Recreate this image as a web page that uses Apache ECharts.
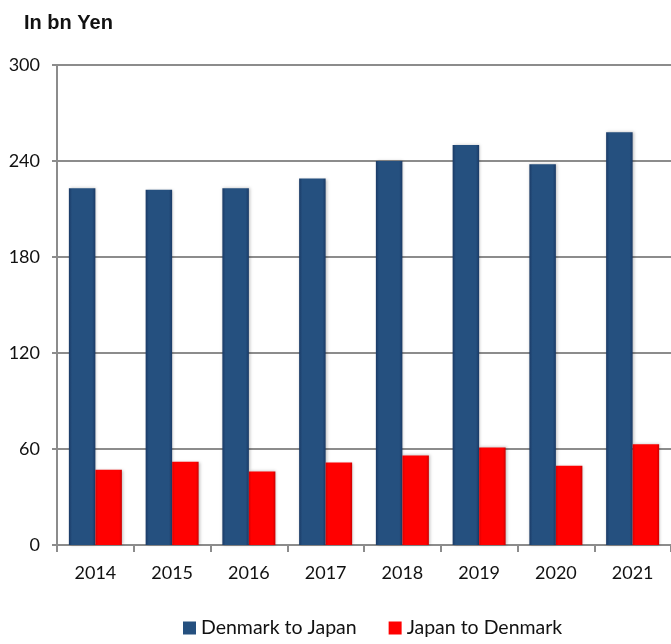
<!DOCTYPE html>
<html><head><meta charset="utf-8">
<script src="https://cdn.jsdelivr.net/npm/echarts@6/dist/echarts.min.js"></script>
<style>html,body{margin:0;padding:0;background:#fff}#c{width:671px;height:644px}</style>
</head><body><div id="c"></div>
<script>
const categories = ['2014','2015','2016','2017','2018','2019','2020','2021'];
const denmarkToJapan = [223, 222, 223, 229, 240, 250, 238, 258];
const japanToDenmark = [47, 52, 46, 51.5, 56, 61, 49.5, 63];
const yTicks = [0, 60, 120, 180, 240, 300];

const blueGrad = new echarts.graphic.LinearGradient(0,0,1,0,[
  {offset:0,color:'#1a3a66'},{offset:0.12,color:'#25507f'},{offset:0.88,color:'#25507f'},{offset:1,color:'#1a3a66'}]);
const redGrad = new echarts.graphic.LinearGradient(0,0,1,0,[
  {offset:0,color:'#d80000'},{offset:0.1,color:'#ff0000'},{offset:0.9,color:'#ff0000'},{offset:1,color:'#cc0000'}]);

const chart = echarts.init(document.getElementById('c'));
chart.setOption({
  animation:false,
  title:{text:'In bn Yen',left:19,top:8,textStyle:{fontFamily:'Liberation Sans, Arial',fontWeight:'bold',fontSize:20,color:'#111'}},
  legend:{bottom:1,left:178,itemWidth:13,itemHeight:13,itemGap:32,icon:'rect',
    textStyle:{fontFamily:'Lato, Open Sans',fontSize:19.5,color:'#111'},
    data:[{name:'Denmark to Japan',itemStyle:{color:'#25507f'}},{name:'Japan to Denmark',itemStyle:{color:'#ff0000'}}]},
  grid:{left:57,right:-3,top:65,bottom:99,containLabel:false},
  xAxis:{type:'category',data:categories,
    axisLine:{lineStyle:{color:'#8c8c8c',width:2}},
    axisTick:{show:true,length:7,lineStyle:{color:'#8c8c8c',width:2}},
    axisLabel:{fontFamily:'Lato, Open Sans',fontSize:18,color:'#111',margin:19}},
  yAxis:{type:'value',min:yTicks[0],max:yTicks[yTicks.length-1],interval:60,
    axisLine:{show:true,lineStyle:{color:'#8c8c8c',width:2}},
    axisTick:{show:true,length:5,lineStyle:{color:'#8c8c8c',width:2}},
    splitLine:{lineStyle:{color:'#8c8c8c',width:2}},
    axisLabel:{fontFamily:'Lato, Open Sans',fontSize:18,color:'#111',margin:17}},
  series:[
    {name:'Denmark to Japan',type:'bar',data:denmarkToJapan,barWidth:26.5,barGap:'0%',
      itemStyle:{color:blueGrad,shadowColor:'rgba(0,0,0,0.25)',shadowBlur:3,shadowOffsetX:1}},
    {name:'Japan to Denmark',type:'bar',data:japanToDenmark,barWidth:26.5,barGap:'0%',
      itemStyle:{color:redGrad,shadowColor:'rgba(0,0,0,0.25)',shadowBlur:3,shadowOffsetX:1}}
  ]
});
</script></body></html>
